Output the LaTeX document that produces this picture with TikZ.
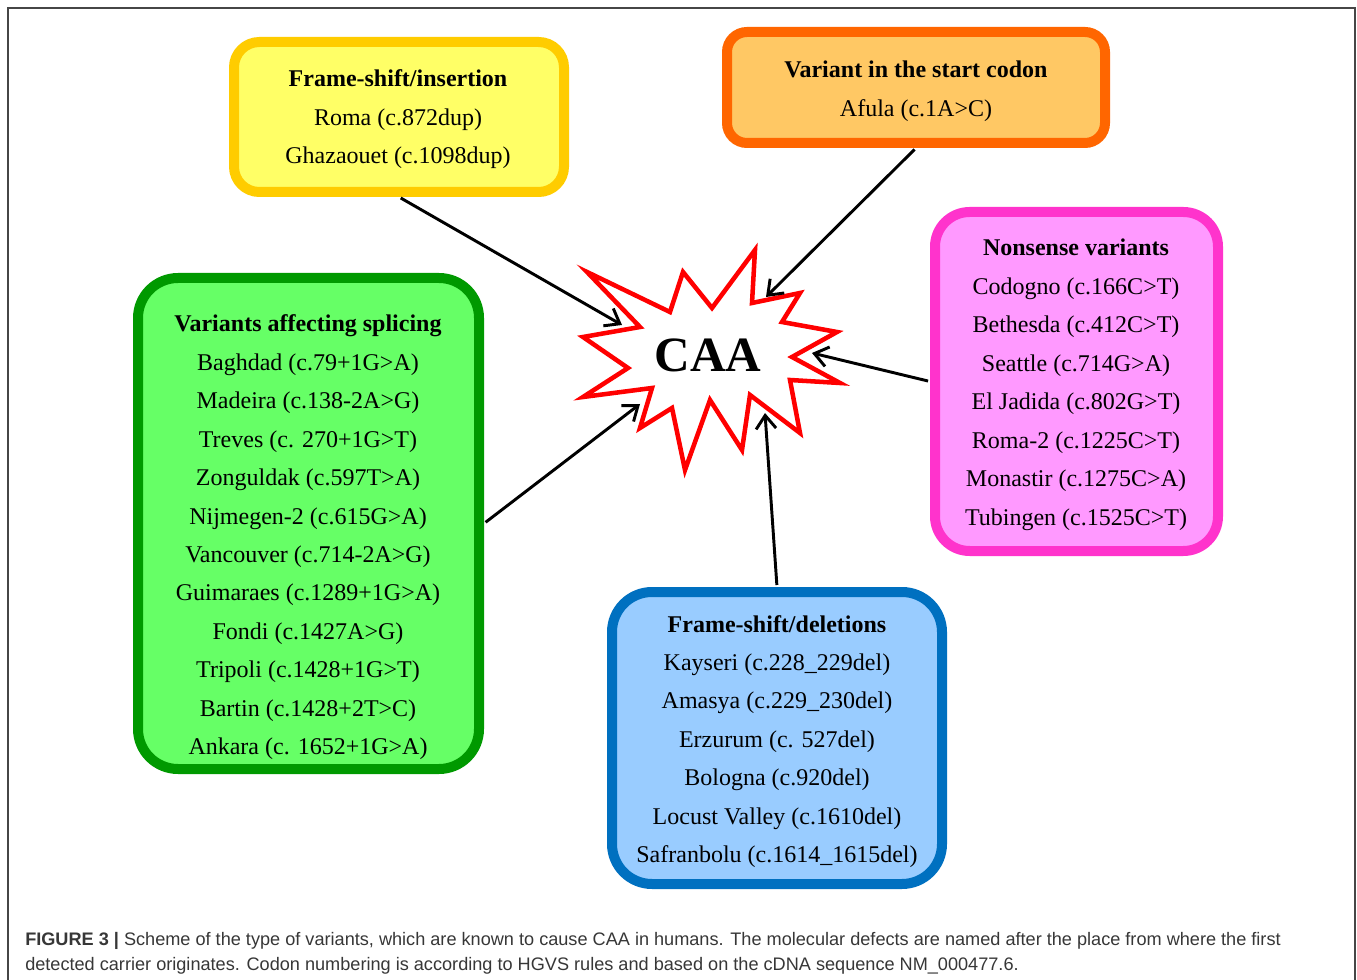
\documentclass[tikz,border=0pt]{standalone}
\usepackage{fontspec}
\setmainfont{Liberation Serif}
\newfontfamily\capfont{Liberation Sans}
\usetikzlibrary{arrows.meta,fit}
\definecolor{yfill}{RGB}{255,255,102}
\definecolor{ybord}{RGB}{255,204,0}
\definecolor{ofill}{RGB}{255,200,100}
\definecolor{obord}{RGB}{255,102,0}
\definecolor{mfill}{RGB}{255,153,255}
\definecolor{mbord}{RGB}{255,51,204}
\definecolor{gfill}{RGB}{102,255,102}
\definecolor{gbord}{RGB}{0,153,0}
\definecolor{bfill}{RGB}{153,204,255}
\definecolor{bbord}{RGB}{0,112,192}
\definecolor{framegray}{RGB}{70,70,70}
\definecolor{captext}{RGB}{55,55,55}
\begin{document}
\begin{tikzpicture}[x=0.75pt,y=-0.75pt,
  box/.style={draw, line width=7.5pt, inner sep=0pt},
  txt/.style={anchor=base, inner sep=0pt, font=\fontsize{18}{20}\selectfont},
  ttl/.style={anchor=base, inner sep=0pt, font=\fontsize{18}{20}\selectfont\bfseries},
  arr/.style={line width=2.2pt, -{Straight Barb[length=10pt,width=15pt]}, shorten <=1.5pt},
  captxt/.style={anchor=base west, inner sep=0pt, text=captext, font=\capfont\fontsize{13.6}{16}\selectfont}]
\useasboundingbox (0,0) rectangle (1357,980);
\fill[white] (0,0) rectangle (1357,980);
\draw[framegray, line width=1.1pt] (8,990) -- (8,8) -- (1355,8) -- (1355,990);

% boxes
\node[box, draw=ybord, fill=yfill, rounded corners=19pt, fit={(234,42)(564,192)}] (yellow) {};
\node[box, draw=obord, fill=ofill, rounded corners=15pt, fit={(727,32)(1105,143)}] (orange) {};
\node[box, draw=mbord, fill=mfill, rounded corners=26pt, fit={(935,212)(1218,551)}] (magenta) {};
\node[box, draw=gbord, fill=gfill, rounded corners=30pt, fit={(138,278)(479,769)}] (green) {};
\node[box, draw=bbord, fill=bfill, rounded corners=30pt, fit={(612,592)(942,884)}] (blue) {};

% star
\draw[red, line width=3.4pt, fill=white, line join=miter]
  (587,272) -- (670,312) -- (683,272) -- (712,308) -- (755,250) -- (752,303)
  -- (800,293) -- (782,322) -- (837,332) -- (792,357) -- (840,383) -- (790,380)
  -- (800,433) -- (750,395) -- (742,450) -- (710,400) -- (685,470) -- (672,408)
  -- (640,428) -- (652,388) -- (583,397) -- (628,368) -- (583,337) -- (640,327) -- cycle;
\node[inner sep=0pt, font=\fontsize{37}{40}\selectfont\bfseries] (caa) at (708,355) {CAA};

% arrow targets
\coordinate (ty) at (622,325);
\coordinate (to) at (766,297);
\coordinate (tm) at (812,353);
\coordinate (tg) at (640,404);
\coordinate (tb) at (765,413);
\draw[arr] (yellow.south) -- (ty);
\draw[arr] (orange.south) -- (to);
\draw[arr] (magenta.west) -- (tm);
\draw[arr] (green.east) -- (tg);
\draw[arr] (blue.north) -- (tb);

% yellow text
\node[ttl] (y0) at (398,87) {Frame-shift/insertion};
\node[txt] (y1) at (398,126) {Roma (c.872dup)};
\node[txt] (y2) at (398,164) {Ghazaouet (c.1098dup)};

% orange text
\node[ttl] (o0) at (916,78) {Variant in the start codon};
\node[txt] (o1) at (916,117) {Afula (c.1A>C)};

% magenta text
\node[ttl] (m0) at (1076,256) {Nonsense variants};
\foreach \t [count=\i] in {Codogno (c.166C>T), Bethesda (c.412C>T), Seattle (c.714G>A),
  El Jadida (c.802G>T), Roma-2 (c.1225C>T), Monastir (c.1275C>A), Tubingen (c.1525C>T)}
  \node[txt] (m\i) at (1076,{256+38.5*\i}) {\t};

% green text
\node[ttl] (g0) at (308,332) {Variants affecting splicing};
\foreach \t [count=\i] in {Baghdad (c.79+1G>A), Madeira (c.138-2A>G), Treves (c. 270+1G>T),
  Zonguldak (c.597T>A), Nijmegen-2 (c.615G>A), Vancouver (c.714-2A>G),
  Guimaraes (c.1289+1G>A), Fondi (c.1427A>G), Tripoli (c.1428+1G>T),
  Bartin (c.1428+2T>C), Ankara (c. 1652+1G>A)}
  \node[txt] (g\i) at (308,{332+38.4*\i}) {\t};

% blue text
\node[ttl] (b0) at (777,632) {Frame-shift/deletions};
\foreach \t [count=\i] in {Kayseri (c.228\_229del), Amasya (c.229\_230del), Erzurum (c. 527del),
  Bologna (c.920del), Locust Valley (c.1610del), Safranbolu (c.1614\_1615del)}
  \node[txt] (b\i) at (777,{632+38.4*\i}) {\t};

% caption
\node[captxt] (cap1) at (25,945) {\textbf{FIGURE 3 |} Scheme of the type of variants, which are known to cause CAA in humans. The molecular defects are named after the place from where the first};
\node[captxt] (cap2) at (25,970) {detected carrier originates. Codon numbering is according to HGVS rules and based on the cDNA sequence NM\_000477.6.};
\end{tikzpicture}
\end{document}
